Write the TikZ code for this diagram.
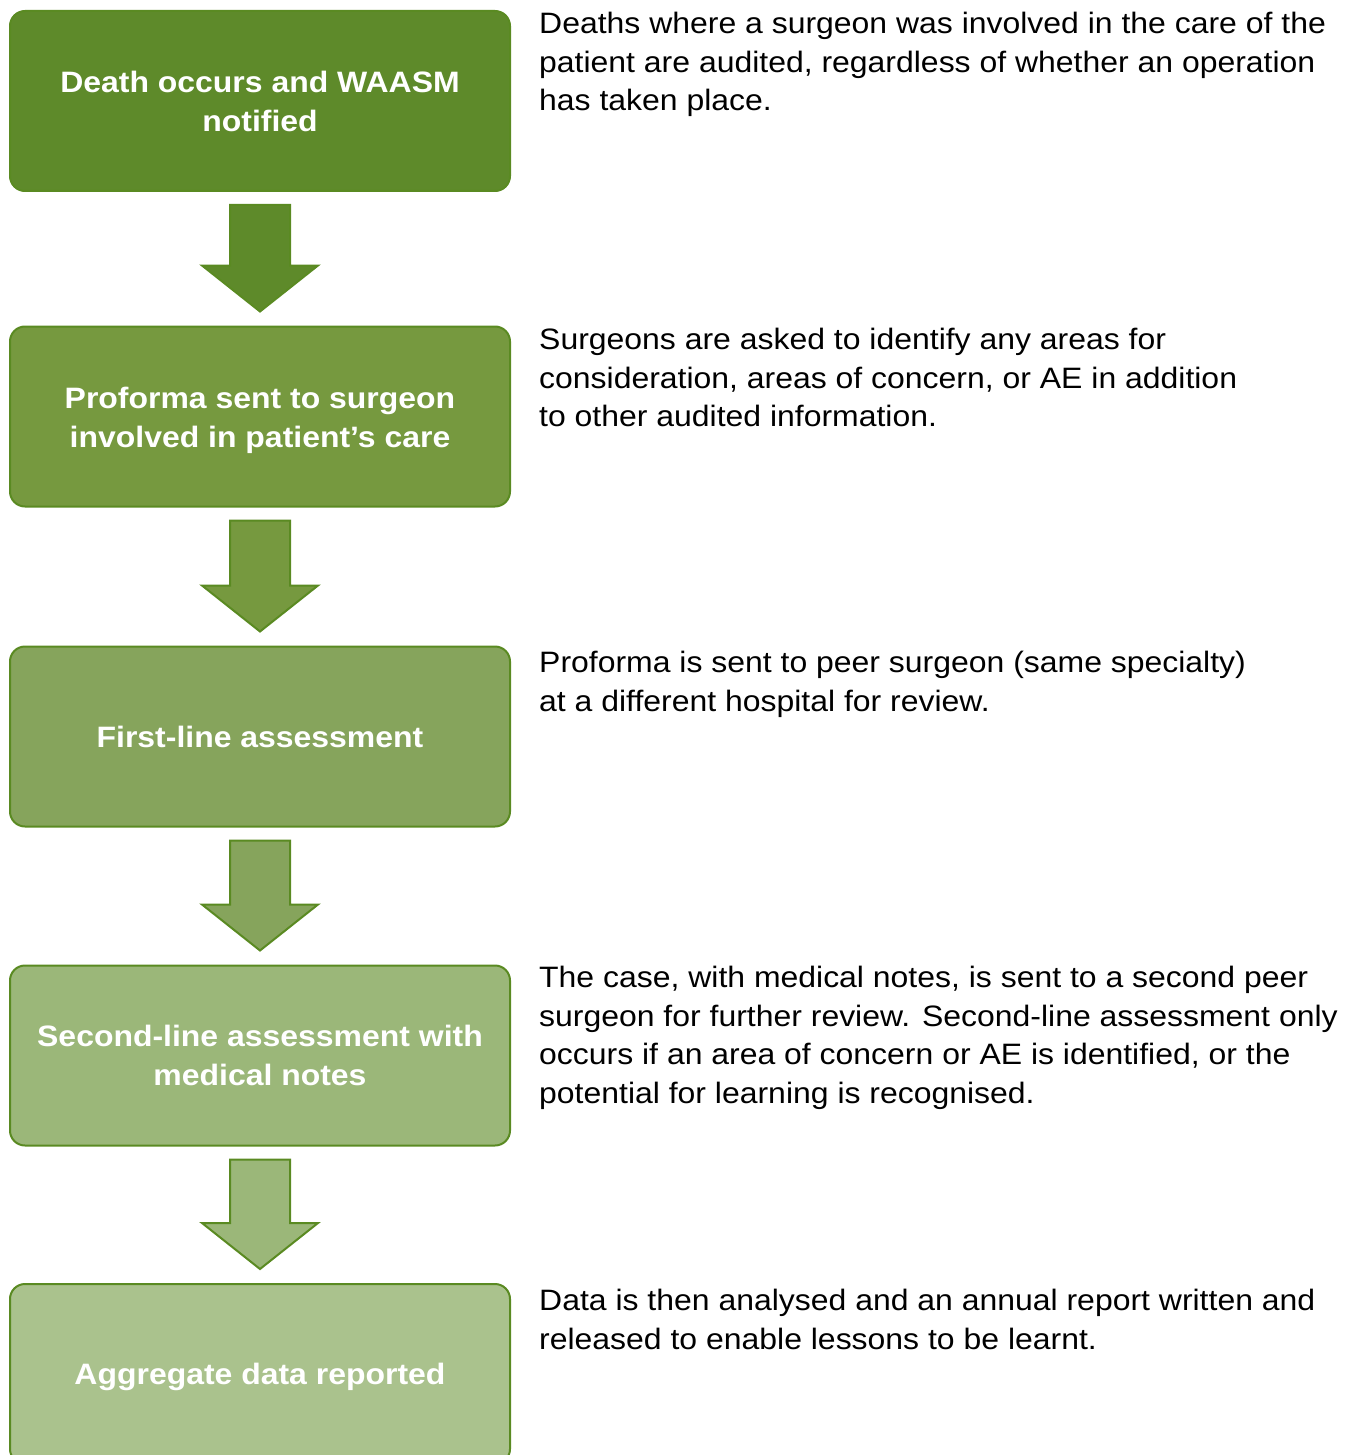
\documentclass[tikz,border=0pt]{standalone}
\usepackage{fontspec}
\setmainfont[FakeStretch=1.083]{Liberation Sans}
\usetikzlibrary{calc}
\definecolor{cA}{HTML}{5E8A2A}
\definecolor{cB}{HTML}{76993F}
\definecolor{cC}{HTML}{86A45C}
\definecolor{cD}{HTML}{9BB779}
\definecolor{cE}{HTML}{AAC28D}
\definecolor{edge}{HTML}{5A8A22}
\tikzset{
  stepbox/.style={draw=edge, line width=2pt, rounded corners=15pt,
    minimum width=500pt, minimum height=180pt, inner sep=0pt,
    text=white, align=center, font=\fontsize{29.5}{39}\selectfont\bfseries},
  note/.style={anchor=north west, inner sep=0pt, align=left,
    font=\fontsize{29.5}{38.5}\selectfont, text=black},
  bigarrow/.style={draw=edge, line width=2pt, line join=miter}
}
\newcommand{\flowarrow}[3]{%
  \filldraw[bigarrow, fill=#3]
    ($(#1.south)+(-30,13)$) -- ($(#1.south)+(30,13)$) --
    ($(#2.north)+(30,-60)$) -- ($(#2.north)+(58,-60)$) --
    ($(#2.north)+(0,-14)$) -- ($(#2.north)+(-58,-60)$) --
    ($(#2.north)+(-30,-60)$) -- cycle;}
\begin{document}
\begin{tikzpicture}[x=1pt,y=-1pt]
\useasboundingbox (0,0) rectangle (1350,1455);
\clip (0,0) rectangle (1350,1455);
\node[stepbox, fill=cA] (b1) at (260,101) {Death occurs and WAASM\\notified};
\node[stepbox, fill=cB] (b2) at (260,416.5) {\raisebox{-4pt}[\height][\depth]{\begin{tabular}{@{}c@{}}Proforma sent to surgeon\\involved in patient’s care\end{tabular}}};
\node[stepbox, fill=cC] (b3) at (260,736.5) {First-line assessment};
\node[stepbox, fill=cD] (b4) at (260,1055.5) {Second-line assessment with\\medical notes};
\node[stepbox, fill=cE] (b5) at (260,1374) {\raisebox{-3pt}[\height][\depth]{Aggregate data reported}};
\flowarrow{b1}{b2}{cA}
\flowarrow{b2}{b3}{cB}
\flowarrow{b3}{b4}{cC}
\flowarrow{b4}{b5}{cD}
\node[note] (t1) at (539,12) {Deaths where a surgeon was involved in the care of the\\patient are audited, regardless of whether an operation\\has taken place.};
\node[note] (t2) at (539,328) {Surgeons are asked to identify any areas for\\consideration, areas of concern, or AE in addition\\to other audited information.};
\node[note] (t3) at (539,651) {Proforma is sent to peer surgeon (same specialty)\\at a different hospital for review.};
\node[note] (t4) at (539,966) {The case, with medical notes, is sent to a second peer\\surgeon for further review. Second-line assessment only\\occurs if an area of concern or AE is identified, or the\\potential for learning is recognised.};
\node[note] (t5) at (539,1289) {Data is then analysed and an annual report written and\\released to enable lessons to be learnt.};
\end{tikzpicture}
\end{document}
